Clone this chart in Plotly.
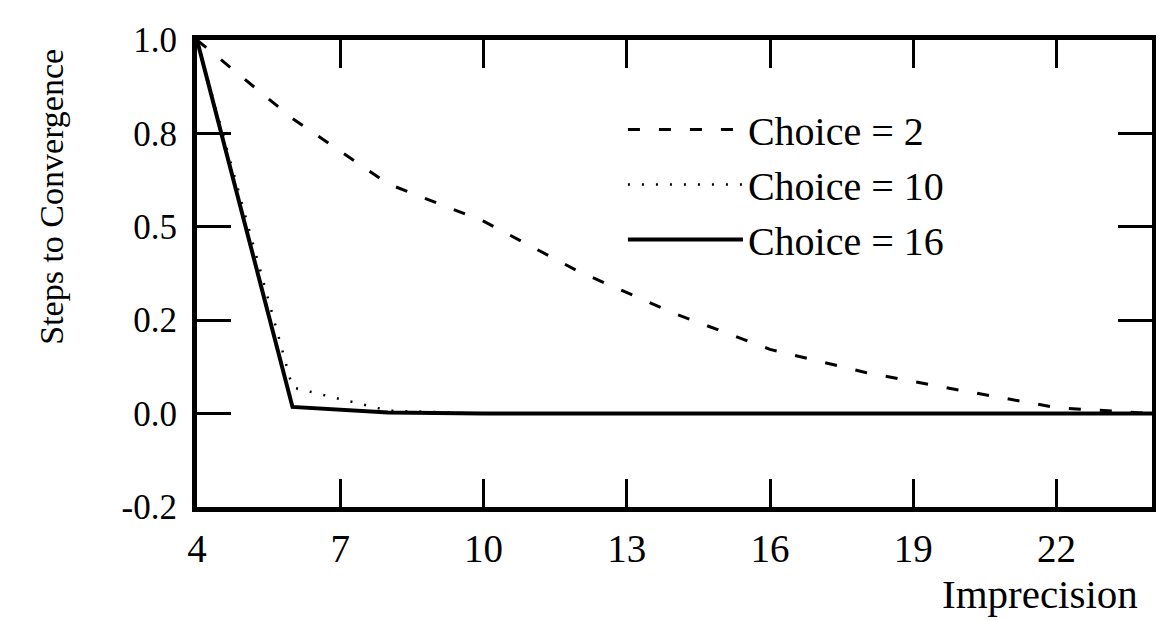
import plotly.graph_objects as go

imprecision = [4, 6, 8, 10, 12, 14, 16, 18, 20, 22, 24]
choice_2 = [1.0, 0.79, 0.615, 0.515, 0.38, 0.268, 0.172, 0.11, 0.062, 0.016, 0.0]
choice_10 = [1.0, 0.07, 0.008, 0.0, 0.0, 0.0, 0.0, 0.0, 0.0, 0.0, 0.0]
choice_16 = [1.0, 0.018, 0.003, 0.0, 0.0, 0.0, 0.0, 0.0, 0.0, 0.0, 0.0]

x_ticks = [4, 7, 10, 13, 16, 19, 22]
y_ticks = [-0.25, 0.0, 0.25, 0.5, 0.75, 1.0]
y_tick_text = ["-0.2", "0.0", "0.2", "0.5", "0.8", "1.0"]

FONT = "Liberation Serif, Times New Roman, serif"

fig = go.Figure()
fig.add_trace(go.Scatter(x=imprecision, y=choice_2, mode="lines", name="Choice = 2",
                         line=dict(color="black", width=3, dash="12px,19px")))
fig.add_trace(go.Scatter(x=imprecision, y=choice_10, mode="lines", name="Choice = 10",
                         line=dict(color="black", width=2.5, dash="2px,12px")))
fig.add_trace(go.Scatter(x=imprecision, y=choice_16, mode="lines", name="Choice = 16",
                         line=dict(color="black", width=4)))

# the page body adds an 8px offset, so margins are compensated
fig.update_layout(
    template="none",
    width=1164, height=620,
    margin=dict(l=189, r=20, t=32, b=121, autoexpand=False),
    paper_bgcolor="white", plot_bgcolor="white",
    font=dict(family=FONT, size=34, color="black"),
    showlegend=True,
    legend=dict(x=0.446, y=0.878, xanchor="left", yanchor="top",
                bgcolor="rgba(0,0,0,0)", borderwidth=0,
                font=dict(size=40, family=FONT, color="black"),
                tracegroupgap=0, itemwidth=115),
)
fig.update_xaxes(range=[4, 24], tickvals=x_ticks, ticks="inside", ticklen=28, tickwidth=3,
                 tickcolor="black", showline=True, linewidth=5, linecolor="black",
                 mirror="ticks", showgrid=False, zeroline=False, automargin=False,
                 tickfont=dict(size=39, family=FONT, color="black"), ticklabelstandoff=3)
fig.update_yaxes(range=[-0.25, 1.0], tickvals=y_ticks, ticktext=y_tick_text, ticks="inside",
                 ticklen=34, tickwidth=3, tickcolor="black", showline=True, linewidth=5,
                 linecolor="black", mirror="ticks", showgrid=False, zeroline=False,
                 automargin=False,
                 tickfont=dict(size=35, family=FONT, color="black"), ticklabelstandoff=8)

fig.add_annotation(text="Imprecision", xref="paper", yref="paper", x=0.9874, y=-0.186,
                   xanchor="right", yanchor="middle", showarrow=False,
                   font=dict(size=41, family=FONT, color="black"))
fig.add_annotation(text="Steps to Convergence", xref="paper", yref="paper", x=-0.152, y=0.664,
                   xanchor="center", yanchor="middle", textangle=-90, showarrow=False,
                   font=dict(size=34, family=FONT, color="black"))

fig.write_html("out.html")
